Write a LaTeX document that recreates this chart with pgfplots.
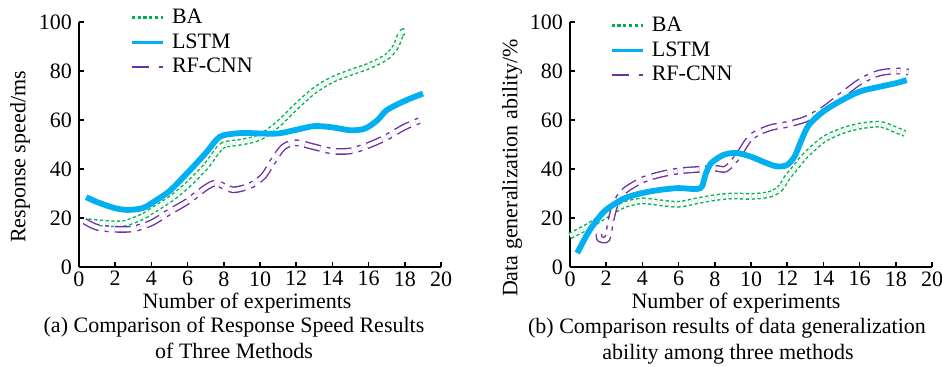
\documentclass[border=0pt]{standalone}
\usepackage{fontspec}
\setmainfont{Liberation Serif}
\usepackage{pgfplots}
\pgfplotsset{compat=1.18}
\definecolor{cBA}{RGB}{0,176,80}
\definecolor{cLSTM}{RGB}{0,176,240}
\definecolor{cRF}{RGB}{112,48,160}
\begin{document}
\begin{tikzpicture}[font=\fontsize{11bp}{13.2bp}\selectfont]
\path[use as bounding box] (0,0) rectangle (471bp,183.5bp);
\pgfplotsset{
 myaxis/.style={scale only axis, width=181bp, height=122.5bp,
   xmin=0, xmax=20, ymin=0, ymax=100,
   xtick={0,2,...,20}, ytick={0,20,...,100},
   axis x line*=bottom, axis y line*=left,
   axis line style={line width=1bp, black},
   tick style={line width=0.8bp, black},
   major tick length=2.5bp, tick align=inside,
   /pgf/number format/assume math mode=true,
   ticklabel style={font=\fontsize{11bp}{13.2bp}\selectfont},
   xticklabel style={inner sep=2bp},
   legend style={draw=none, fill=none, inner sep=0pt, row sep=0.5bp,
     column sep=3bp, anchor=north west,
     nodes={inner sep=1bp, text height=7.8bp, text depth=2bp}},
   legend cell align=left, clip=false},
 ba/.style={cBA, line width=0.7bp, double=white, double distance=2bp,
   dash pattern=on 1.6bp off 1.3bp, smooth, forget plot},
 rf/.style={cRF, line width=0.7bp, double=white, double distance=2bp,
   dash pattern=on 8bp off 3bp on 2bp off 3bp, smooth, forget plot},
 ls/.style={cLSTM, line width=2.9bp, smooth, forget plot},
}
% ---------- left panel ----------
\begin{axis}[myaxis, at={(39.5bp,50bp)}, anchor=south west,
  legend style={at={(0.141,1.067)}}]
\addplot[ba] coordinates {(0.5,18.5) (1.5,17.8) (2.5,17.8) (3.5,20.5) (4,22.8) (5,27.5) (6,33.5) (7,41) (7.6,47) (8,49.9) (9,51) (10,53) (11,58.3) (12,65.5) (13,72) (14,76.5) (15,79.4) (16,82) (17,85.8) (17.5,90) (17.8,95.5) (18,96)};
\addplot[rf] coordinates {(0.3,18.7) (1,16.2) (2,15.4) (3,15.6) (4,18) (5,22.5) (6,26.8) (7,32.4) (7.6,34.2) (8.5,31.5) (9.5,33.4) (10.2,37.2) (10.7,43) (11.3,49) (12,50.7) (13,49) (14,47.3) (15,47.4) (16,49.7) (17,53) (18,57.2) (19,60.3)};
\addplot[ls] coordinates {(0.4,28.5) (1,26.5) (2,24) (2.7,23.3) (3.5,24) (4,26) (5,31) (6,38.5) (7,46.5) (7.6,52) (8,53.8) (9,54.7) (10,54.5) (11,54.5) (12,56) (13,57.5) (14,57) (15,55.8) (15.8,56.5) (16.5,60) (17,64) (18,67.8) (19,70.8)};
\addlegendimage{legend image code/.code={\draw[cBA,line width=1.3bp,dash pattern=on 1.6bp off 1.3bp](0,0)--(15.5bp,0);}}
\addlegendentry{BA}
\addlegendimage{legend image code/.code={\draw[cLSTM,line width=1.3bp](0,0)--(15.5bp,0);}}
\addlegendentry{LSTM}
\addlegendimage{legend image code/.code={\draw[cRF,line width=1.3bp,dash pattern=on 8.5bp off 5bp on 2bp off 5bp](0,0)--(15.5bp,0);}}
\addlegendentry{RF-CNN}
\end{axis}
% ---------- right panel ----------
\begin{axis}[myaxis, at={(285bp,50bp)}, anchor=south west,
  legend style={at={(0.110,1.035)}}]
\addplot[ba] coordinates {(0,12.7) (1,16.6) (2,21.3) (3,25.4) (4,27) (5,26.2) (6,25.6) (7,27) (8,28.3) (9,29) (10,28.8) (11,29.6) (11.6,32) (12,36.5) (12.5,41) (13,45.5) (14,52) (15,55.5) (16,57.5) (17,58.3) (17.5,57.5) (18,56) (18.5,54.5)};
\addplot[rf] coordinates {(1.6,13.5) (1.65,11.5) (2.05,11.5) (2.25,18.5) (2.5,25.5) (3,31) (4,35.5) (5,37.8) (6,39.2) (7,39.8) (8,40.3) (8.6,40) (9.2,44.5) (10,53) (11,56.7) (12,58.2) (13,60.3) (14,64.3) (15,70) (16,75.5) (17,79) (18,80) (18.7,79.6)};
\addplot[ls] coordinates {(0.4,5.7) (1,14) (1.5,19.3) (2,23.4) (3,28) (4,30.2) (5,31.5) (6,32.2) (7,31.8) (7.3,33) (7.5,38) (7.8,42.4) (8.5,45.8) (9.2,46.5) (10,45) (11,42) (11.5,41) (12,41.7) (12.4,45) (12.8,52) (13.2,58) (14,63.5) (15,68) (16,71.6) (17,73.4) (18,75) (18.6,76.3)};
\addlegendimage{legend image code/.code={\draw[cBA,line width=1.3bp,dash pattern=on 1.6bp off 1.3bp](0,0)--(15.5bp,0);}}
\addlegendentry{BA}
\addlegendimage{legend image code/.code={\draw[cLSTM,line width=1.3bp](0,0)--(15.5bp,0);}}
\addlegendentry{LSTM}
\addlegendimage{legend image code/.code={\draw[cRF,line width=1.3bp,dash pattern=on 8.5bp off 5bp on 2bp off 5bp](0,0)--(15.5bp,0);}}
\addlegendentry{RF-CNN}
\end{axis}
% ---------- labels ----------
\node[rotate=90] at (10bp,105bp) {Response speed/ms};
\node[rotate=90] at (256bp,99.5bp) {Data generalization ability/\%};
\node[anchor=base, inner sep=0pt] at (123.5bp,29.5bp) {Number of experiments};
\node[anchor=base, inner sep=0pt] at (368bp,29.5bp) {Number of experiments};
\node[anchor=base, inner sep=0pt] at (117bp,17.2bp) {(a) Comparison of Response Speed Results};
\node[anchor=base, inner sep=0pt] at (117bp,4.5bp) {of Three Methods};
\node[anchor=base, inner sep=0pt] at (363.5bp,17bp) {(b) Comparison results of data generalization};
\node[anchor=base, inner sep=0pt] at (364bp,4bp) {ability among three methods};
\end{tikzpicture}
\end{document}
